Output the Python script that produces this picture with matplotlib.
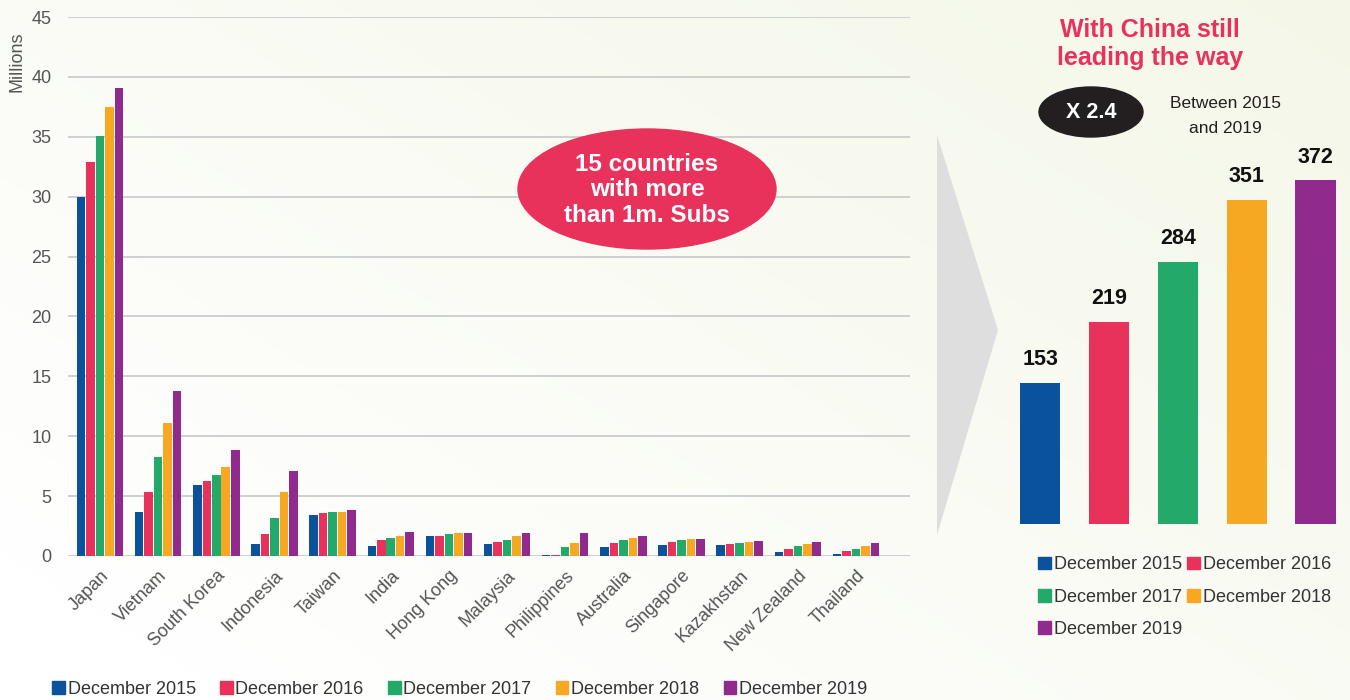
import numpy as np
import matplotlib
matplotlib.use("Agg")
from matplotlib import pyplot as plt
from matplotlib.patches import Ellipse, Polygon, Patch

plt.rcParams['font.family'] = ['Liberation Sans', 'DejaVu Sans']

#data
countries = ["Japan", "Vietnam", "South Korea", "Indonesia", "Taiwan", "India",
             "Hong Kong", "Malaysia", "Philippines", "Australia", "Singapore",
             "Kazakhstan", "New Zealand", "Thailand"]
series_names = ["December 2015", "December 2016", "December 2017",
                "December 2018", "December 2019"]
dec2015 = [30.0, 3.7, 5.9, 1.0, 3.4, 0.85, 1.63, 1.0, 0.1, 0.72, 0.95, 0.95, 0.31, 0.17]
dec2016 = [32.9, 5.35, 6.3, 1.8, 3.6, 1.3, 1.7, 1.15, 0.1, 1.1, 1.2, 1.04, 0.59, 0.4]
dec2017 = [35.1, 8.25, 6.8, 3.2, 3.7, 1.54, 1.8, 1.37, 0.78, 1.35, 1.3, 1.07, 0.82, 0.59]
dec2018 = [37.5, 11.1, 7.4, 5.35, 3.7, 1.65, 1.88, 1.63, 1.1, 1.54, 1.4, 1.15, 1.04, 0.82]
dec2019 = [39.1, 13.8, 8.85, 7.1, 3.8, 2.02, 1.96, 1.88, 1.88, 1.65, 1.45, 1.23, 1.17, 1.1]
china = [153, 219, 284, 351, 372]

colors = ["#0a529c", "#e8315b", "#23aa6b", "#f6a823", "#902a8c"]
W, H = 1350, 700

fig = plt.figure(figsize=(13.5, 7), dpi=100)

#soft background
bg = fig.add_axes([0, 0, 1, 1], zorder=-10)
yy, xx = np.mgrid[0:1:200j, 0:1:400j]
grad = np.clip(0.6 * xx + 0.5 * yy - 0.1, 0, 1)
bg.imshow(grad, cmap=matplotlib.colors.LinearSegmentedColormap.from_list(
    "bg", ["#ffffff", "#f4f7e8"]), extent=[0, 1, 0, 1], aspect="auto", origin="lower")
bg.set_xlim(0, 1)
bg.set_ylim(0, 1)
bg.axis("off")

def fx(px):
    return px / W

def fy(py):
    return 1 - py / H

#left chart
ax = fig.add_axes([fx(68), fy(556), fx(910) - fx(68), fy(17) - fy(556)])
ax.patch.set_alpha(0)
x = np.arange(len(countries))
bw = 0.163
all_series = [dec2015, dec2016, dec2017, dec2018, dec2019]
for i, vals in enumerate(all_series):
    ax.bar(x + (i - 2) * bw, vals, width=bw * 0.9, color=colors[i], zorder=3)
ax.set_xlim(-0.55, 13.93)
ax.set_ylim(0, 45)
ax.set_yticks(range(0, 46, 5))
ax.yaxis.grid(True, color="#cfcfcf", linewidth=1.4, zorder=0)
for s in ax.spines.values():
    s.set_visible(False)
ax.tick_params(axis="both", length=0, labelsize=13, labelcolor="#555555")
ax.tick_params(axis="y", pad=12)
ax.set_xticks(x)
ax.set_xticklabels(countries, rotation=45, ha="right", rotation_mode="anchor")
ax.tick_params(axis="x", pad=8)
fig.text(fx(17), fy(62), "Millions", rotation=90, fontsize=13, color="#555555",
         ha="center", va="center")

handles = [Patch(color=c, label=n) for c, n in zip(colors, series_names)]
fig.legend(handles=handles, loc="center left", bbox_to_anchor=(fx(36), fy(689)),
           ncol=5, frameon=False, fontsize=13, handlelength=0.7, handleheight=0.7,
           handletextpad=0.15, columnspacing=1.35, labelcolor="#333333")

#pink bubble
ov = fig.add_axes([0, 0, 1, 1], zorder=5)
ov.set_xlim(0, W)
ov.set_ylim(H, 0)
ov.axis("off")
ov.add_patch(Ellipse((647, 189), 258, 120, color="#e8315b"))
ov.text(647, 190, "15 countries\nwith more\nthan 1m. Subs", color="white",
        fontsize=17.5, fontweight="bold", ha="center", va="center", linespacing=1.15)

#arrow
ov.add_patch(Polygon([(937, 135), (998, 330), (937, 535)], closed=True,
                     facecolor="#dedede", edgecolor="none"))

#right side texts
ov.text(1150, 44, "With China still\nleading the way", color="#e8315b", fontsize=18,
        fontweight="bold", ha="center", va="center", linespacing=1.22)
ov.add_patch(Ellipse((1091, 112), 104, 50, color="#231f20"))
ov.text(1091, 113, "X 2.4", color="white", fontsize=15.5, fontweight="bold",
        ha="center", va="center")
ov.text(1225, 116, "Between 2015\nand 2019", color="#231f20", fontsize=12.5,
        ha="center", va="center", linespacing=1.8)

#china chart
ax2 = fig.add_axes([fx(1005), fy(524), fx(1350) - fx(1005), fy(150) - fy(524)])
ax2.patch.set_alpha(0)
cx = np.arange(len(china))
bars = ax2.bar(cx, china, width=0.585, color=colors)
for b, v in zip(bars, china):
    ax2.annotate(str(v), (b.get_x() + b.get_width() / 2, v), xytext=(0, 9),
                 textcoords="offset points", ha="center", va="bottom",
                 fontsize=15.5, fontweight="bold", color="#111111")
ax2.set_xlim(-0.51, 4.5)
ax2.set_ylim(0, 405)
ax2.axis("off")

order = [0, 2, 4, 1, 3]
fig.legend(handles=[handles[i] for i in order], loc="upper left",
           bbox_to_anchor=(fx(1022), fy(540)), ncol=2, frameon=False, fontsize=13,
           handlelength=0.7, handleheight=0.7, handletextpad=0.15,
           columnspacing=0.3, labelspacing=0.85, labelcolor="#333333")

fig.savefig("out.png", dpi=100)
